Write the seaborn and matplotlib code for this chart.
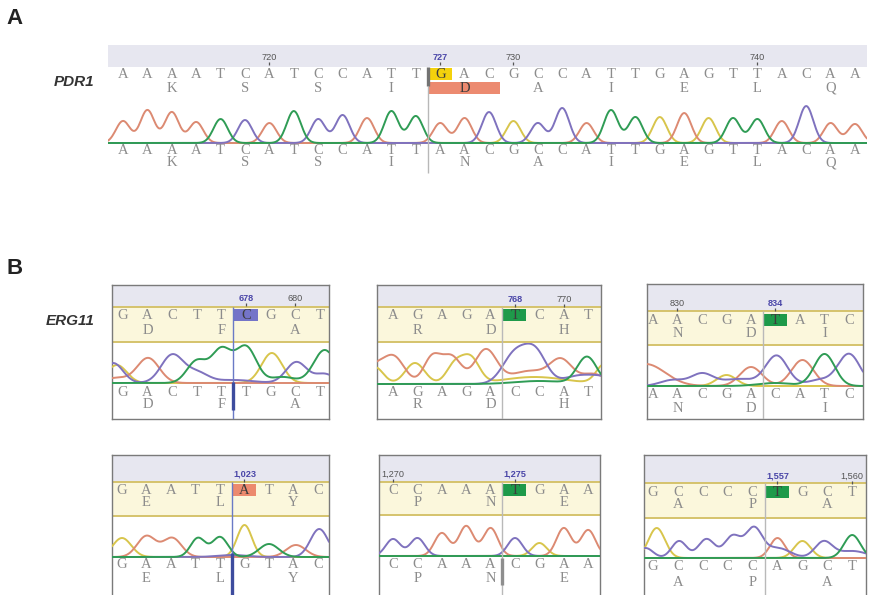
import numpy as np
import pandas as pd
import matplotlib
matplotlib.use("Agg")
import matplotlib.pyplot as plt
import seaborn as sns
from matplotlib.patches import Rectangle

sns.set_theme(style="white")
plt.rcParams["font.family"] = ["Liberation Sans", "DejaVu Sans"]

FIG_W, FIG_H = 870, 595

# trace colours per base and the stronger colours used for the variant box
BASE_COLORS = {"A": "#dc8a72", "C": "#7f72be", "G": "#d8c54c", "T": "#2f9c55"}
MARK_COLORS = {"A": "#ec8a6e", "C": "#7474c8", "G": "#f4d20c", "T": "#1e9a4a"}
DRAW_ORDER = ["G", "A", "C", "T"]
HEADER = "#e7e7f0"
BAND = "#fbf7dc"
BAND_EDGE = "#d5c36c"
LETTER = "#8c8c8c"
LETTER_DARK = "#3c3c3c"
SEQ_FONT = "Liberation Serif"

# ---------------- PDR1 ----------------
pdr1_start = 714
pdr1_ref = "AAAATCATCCATTGACGCCATTGAGTTACAA"
pdr1_read = "AAAATCATCCATTAACGCCATTGAGTTACAA"
pdr1_ref_aa = {2: "K", 5: "S", 8: "S", 11: "I", 14: "D", 17: "A",
               20: "I", 23: "E", 26: "L", 29: "Q"}
pdr1_read_aa = {2: "K", 5: "S", 8: "S", 11: "I", 14: "N", 17: "A",
                20: "I", 23: "E", 26: "L", 29: "Q"}
pdr1_ruler = [720, 727, 730, 740]
pdr1_variant = 727
pdr1_peak_heights = [22, 33, 31, 21, 24, 23, 20, 32, 24, 28, 25, 32, 27,
                     20, 25, 31, 22, 20, 35, 20, 33, 26, 26, 30, 25, 25,
                     24, 22, 37, 20, 19]
pdr1_peaks = {b: [(i, h, 0.29) for i, (r, h) in
                  enumerate(zip(pdr1_read, pdr1_peak_heights)) if r == b]
              for b in "ACGT"}

# ---------------- ERG11 ----------------
erg678_start, erg678_variant, erg678_ruler = 673, 678, [678, 680]
erg678_ref, erg678_read = "GACTTCGCT", "GACTTTGCT"
erg678_aa = {1: "D", 4: "F", 7: "A"}
erg678_peaks = {
    "G": [(-0.25, 18, 0.4), (6.05, 30, 0.42)],
    "A": [(-0.3, 5, 0.5), (1.02, 25, 0.45)],
    "C": [(-0.4, 20, 0.4), (2.0, 28, 0.45), (3.0, 10, 0.45), (4.5, 3, 0.8),
          (7.05, 21, 0.42), (8.2, 9, 0.4)],
    "T": [(3.0, 22, 0.4), (4.0, 33, 0.4), (5.0, 36, 0.42), (6.5, 6, 0.5),
          (8.2, 33, 0.45)],
}

erg768_start, erg768_variant, erg768_ruler = 763, 768, [768, 770]
erg768_ref, erg768_read = "AGAGATCAT", "AGAGACCAT"
erg768_aa = {1: "R", 4: "D", 7: "H"}
erg768_peaks = {
    "A": [(-0.8, 14, 0.35), (0.0, 28, 0.45), (1.6, 26, 0.35), (2.4, 27, 0.4),
          (3.8, 34, 0.45), (5.6, 13, 0.8), (6.9, 22, 0.45), (8.2, 10, 0.5)],
    "G": [(-0.75, 17, 0.35), (0.9, 21, 0.4), (2.55, 20, 0.35), (3.2, 24, 0.35),
          (5.8, 7, 1.3), (8.7, 20, 0.35)],
    "C": [(5.0, 30, 0.5), (5.85, 30, 0.45), (7.6, 8, 0.6), (8.6, 6, 0.5)],
    "T": [(6.0, 3, 1.0), (7.95, 27, 0.4)],
}

erg834_start, erg834_variant, erg834_ruler = 829, 834, [830, 834]
erg834_ref, erg834_read = "AACGATATC", "AACGACATC"
erg834_aa = {1: "N", 4: "D", 7: "I"}
erg834_peaks = {
    "A": [(-0.3, 22, 0.8), (4.0, 19, 0.45), (6.1, 26, 0.45)],
    "C": [(0.8, 6, 0.5), (2.0, 12, 0.45), (3.5, 7, 0.7), (5.05, 30, 0.45),
          (6.8, 6, 0.5), (8.0, 32, 0.45)],
    "G": [(3.0, 11, 0.4)],
    "T": [(5.0, 3, 0.7), (7.0, 32, 0.42)],
}

erg1023_start, erg1023_variant, erg1023_ruler = 1018, 1023, [1023]
erg1023_ref, erg1023_read = "GAATTATAC", "GAATTGTAC"
erg1023_aa = {1: "E", 4: "L", 7: "Y"}
erg1023_peaks = {
    "G": [(0.0, 19, 0.38), (5.0, 32, 0.3)],
    "A": [(1.0, 21, 0.38), (2.05, 19, 0.38), (7.1, 12, 0.4)],
    "T": [(3.1, 19, 0.3), (4.0, 20, 0.32), (6.0, 13, 0.4)],
    "C": [(4.5, 2, 0.6), (8.05, 28, 0.36)],
}

erg1275_start, erg1275_variant, erg1275_ruler = 1270, 1275, [1270, 1275]
erg1275_ref, erg1275_read = "CCAAATGAA", "CCAAACGAA"
erg1275_aa = {1: "P", 4: "N", 7: "E"}
erg1275_peaks = {
    "C": [(0, 17, 0.3), (1, 18, 0.3), (5, 18, 0.3)],
    "A": [(2, 23, 0.3), (3, 30, 0.3), (4, 28, 0.3), (7, 28, 0.3), (8, 26, 0.3)],
    "G": [(6, 13, 0.3)],
    "T": [],
}

erg1557_start, erg1557_variant, erg1557_ruler = 1552, 1557, [1557, 1560]
erg1557_ref, erg1557_read = "GCCCCTGCT", "GCCCCAGCT"
erg1557_aa = {1: "A", 4: "P", 7: "A"}
erg1557_peaks = {
    "G": [(0.15, 30, 0.33), (6.0, 17, 0.33)],
    "C": [(-0.3, 10, 0.3), (1.05, 17, 0.3), (2.15, 19, 0.33), (3.2, 22, 0.33),
          (4.05, 29, 0.33), (5.0, 10, 0.5), (6.85, 16, 0.35), (8.0, 7, 0.6)],
    "A": [(5.0, 20, 0.3)],
    "T": [(8.0, 23, 0.33)],
}

fig = plt.figure(figsize=(FIG_W / 100, FIG_H / 100), dpi=100)
fig.patch.set_facecolor("white")


def px_axes(left, top, right, bottom, z):
    return fig.add_axes([left / FIG_W, 1 - bottom / FIG_H,
                         (right - left) / FIG_W, (bottom - top) / FIG_H],
                        zorder=z)


def trace_frame(peaks, lo, hi):
    xs = np.linspace(lo, hi, 700)
    parts = []
    for base in DRAW_ORDER:
        sig = np.zeros_like(xs)
        for c, h, w in peaks.get(base, []):
            sig += h * np.exp(-0.5 * ((xs - c) / w) ** 2)
        parts.append(pd.DataFrame({"pos": xs, "signal": sig, "base": base}))
    return pd.concat(parts, ignore_index=True)


def draw_panel(g, start, ref, read, ref_aa, read_aa, ruler, variant, peaks,
               cursor, framed=True, band=True, codon=None):
    x0, sp = g["x0"], g["sp"]
    xl, xr = (g["left"] - x0) / sp, (g["right"] - x0) / sp

    back = px_axes(g["left"], g["top"], g["right"], g["bottom"], 1)
    back.set_xlim(xl, xr)
    back.set_ylim(g["bottom"], g["top"])
    back.set_xticks([])
    back.set_yticks([])
    back.axhspan(g["top"], g["header"], color=HEADER, lw=0)
    if band:
        back.axhspan(g["header"], g["band"], color=BAND, lw=0)
        back.axhline(g["header"], color=BAND_EDGE, lw=1.4)
        back.axhline(g["band"], color=BAND_EDGE, lw=1.4)
    for name, sp_ in back.spines.items():
        sp_.set_visible(framed and not (name == "bottom" and g.get("open")))
        sp_.set_color("#7a7a7a")
        sp_.set_linewidth(1.0)

    tr = px_axes(g["left"], g["trace_top"], g["right"], g["baseline"] + 2, 2)
    tr.set_xlim(xl, xr)
    tr.set_ylim(-2, g["baseline"] - g["trace_top"])
    df = trace_frame(peaks, xl, xr)
    sns.lineplot(data=df, x="pos", y="signal", hue="base", hue_order=DRAW_ORDER,
                 palette=BASE_COLORS, estimator=None, sort=False, legend=False,
                 linewidth=1.4, ax=tr)
    tr.axis("off")

    ov = px_axes(g["left"], g["top"], g["right"], g["bottom"], 3)
    ov.set_xlim(xl, xr)
    ov.set_ylim(g["bottom"], g["top"])
    ov.axis("off")

    vi = variant - start
    ly = g["letters"]
    ov.add_patch(Rectangle((vi - 0.48, ly - 6.5), 0.95, 12.5,
                           color=MARK_COLORS[ref[vi]], lw=0))
    if codon is not None:
        c0, c1 = codon
        ov.add_patch(Rectangle((c0 - 0.47, g["aa"] - 6), c1 - c0 + 0.93, 11.5,
                               color="#ec8a70", lw=0))

    for i, ch in enumerate(ref):
        ov.text(i, ly, ch, ha="center", va="center", fontsize=10.5,
                family=SEQ_FONT, color=LETTER_DARK if i == vi else LETTER)
    for i, ch in ref_aa.items():
        dark = codon is not None and codon[0] <= i <= codon[1]
        ov.text(i, g["aa"], ch, ha="center", va="center", fontsize=10.5,
                family=SEQ_FONT, color=LETTER_DARK if dark else LETTER)
    for i, ch in enumerate(read):
        ov.text(i, g["read"], ch, ha="center", va="center", fontsize=10.5,
                family=SEQ_FONT, color=LETTER)
    for i, ch in read_aa.items():
        ov.text(i, g["read_aa"], ch, ha="center", va="center", fontsize=10.5,
                family=SEQ_FONT, color=LETTER)

    for pos in ruler:
        i = pos - start
        hot = pos == variant
        ov.text(i, g["ruler"], f"{pos:,}", ha="center", va="center",
                fontsize=6.6, fontweight="bold" if hot else "normal",
                color="#4a46a8" if hot else "#555555")
        ov.plot([i, i], [g["ruler"] + 5, g["ruler"] + 8], color="#555555",
                lw=0.9, solid_capstyle="butt")

    cx = vi - 0.52
    thin_c, thin_span, thick_c, thick_span = cursor
    ov.plot([cx, cx], thin_span, color=thin_c, lw=1.0, solid_capstyle="butt")
    if thick_span is not None:
        ov.plot([cx, cx], thick_span, color=thick_c, lw=2.4,
                solid_capstyle="butt")


# panel A geometry
gA = dict(left=108, right=867, top=45, bottom=180, header=67, band=67,
          trace_top=97, baseline=143, letters=74, aa=88, read=150,
          read_aa=163, ruler=57, x0=123, sp=24.4)
draw_panel(gA, pdr1_start, pdr1_ref, pdr1_read, pdr1_ref_aa, pdr1_read_aa,
           pdr1_ruler, pdr1_variant, pdr1_peaks,
           ("#b8b8b8", (86, 173), "#737373", (67, 86)),
           framed=False, band=False, codon=(13, 15))

GRAY = "#b9b9b9"
BLUE = "#6a7ac6"
boxes = [
    (dict(left=112, right=329, top=285, bottom=419, header=307, band=342,
          trace_top=343, baseline=383, letters=315, aa=330, read=392,
          read_aa=405, ruler=298, x0=123, sp=24.6),
     erg678_start, erg678_ref, erg678_read, erg678_aa, erg678_ruler,
     erg678_variant, erg678_peaks, (BLUE, (307, 419), "#3d4c9e", (382, 410))),
    (dict(left=377, right=601, top=285, bottom=419, header=307, band=342,
          trace_top=343, baseline=384, letters=315, aa=330, read=392,
          read_aa=405, ruler=299, x0=393, sp=24.4),
     erg768_start, erg768_ref, erg768_read, erg768_aa, erg768_ruler,
     erg768_variant, erg768_peaks, (GRAY, (307, 419), None, None)),
    (dict(left=647, right=863, top=284, bottom=419, header=311, band=345,
          trace_top=346, baseline=386, letters=320, aa=333, read=395,
          read_aa=408, ruler=303, x0=653, sp=24.5),
     erg834_start, erg834_ref, erg834_read, erg834_aa, erg834_ruler,
     erg834_variant, erg834_peaks, (GRAY, (311, 419), None, None)),
    (dict(left=112, right=329, top=455, bottom=595, header=482, band=516,
          trace_top=517, baseline=557, letters=490, aa=503, read=565,
          read_aa=578, ruler=474, x0=122, sp=24.5, open=True),
     erg1023_start, erg1023_ref, erg1023_read, erg1023_aa, erg1023_ruler,
     erg1023_variant, erg1023_peaks, (BLUE, (482, 595), "#3d4c9e", (553, 595))),
    (dict(left=379, right=600, top=455, bottom=595, header=482, band=515,
          trace_top=516, baseline=556, letters=490, aa=503, read=565,
          read_aa=578, ruler=474, x0=393, sp=24.4, open=True),
     erg1275_start, erg1275_ref, erg1275_read, erg1275_aa, erg1275_ruler,
     erg1275_variant, erg1275_peaks, (GRAY, (482, 595), "#8e8e8e", (558, 585))),
    (dict(left=644, right=866, top=455, bottom=595, header=483, band=518,
          trace_top=519, baseline=558, letters=492, aa=505, read=567,
          read_aa=582, ruler=476, x0=653, sp=24.9, open=True),
     erg1557_start, erg1557_ref, erg1557_read, erg1557_aa, erg1557_ruler,
     erg1557_variant, erg1557_peaks, (GRAY, (483, 595), None, None)),
]
for g, start, ref, read, aa, ruler, variant, peaks, cursor in boxes:
    draw_panel(g, start, ref, read, aa, aa, ruler, variant, peaks, cursor)


def fig_text(x, y, s, **kw):
    fig.text(x / FIG_W, 1 - y / FIG_H, s, **kw)


fig_text(15, 19, "A", fontsize=16, fontweight="bold", color="#222222",
         ha="center", va="center")
fig_text(15, 269, "B", fontsize=16, fontweight="bold", color="#222222",
         ha="center", va="center")
fig_text(94, 82, "PDR1", fontsize=11, fontweight="bold", fontstyle="italic",
         color="#333333", ha="right", va="center")
fig_text(95, 321, "ERG11", fontsize=11, fontweight="bold", fontstyle="italic",
         color="#333333", ha="right", va="center")

fig.savefig("out.png", dpi=100, facecolor="white")
